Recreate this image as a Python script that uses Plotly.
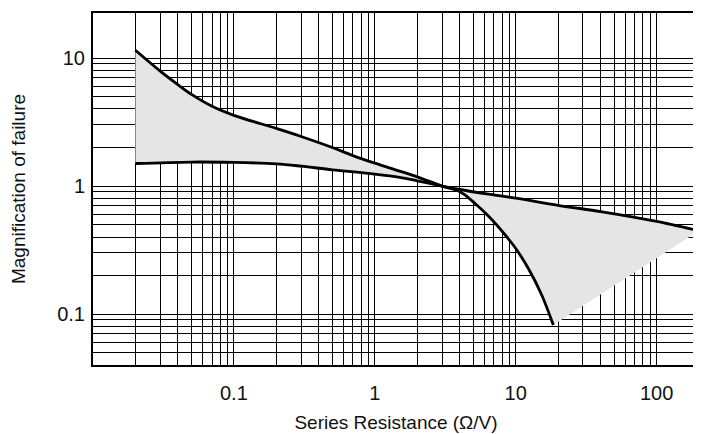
import plotly.graph_objects as go

# Curve A (steep curve): starts high at left, drops steeply past ~3 Ω/V
x_a = [0.02, 0.03, 0.04, 0.05, 0.07, 0.1, 0.2, 0.3, 0.5, 0.7, 1.0, 1.5, 2.0, 3.0,
       4.0, 5.1, 6.4, 8.2, 9.9, 12.3, 15.3, 18.5]
y_a = [11.5, 7.9, 6.2, 5.2, 4.2, 3.57, 2.82, 2.44, 2.0, 1.73, 1.51, 1.31, 1.18, 1.0,
       0.906, 0.738, 0.583, 0.43, 0.331, 0.227, 0.141, 0.082]

# Curve B (flat curve)
x_b = [0.02, 0.05, 0.1, 0.2, 0.3, 0.5, 1.0, 1.5, 2.0, 3.0, 4.0, 6.4,
       10, 20, 40, 70, 100, 200]
y_b = [1.50, 1.54, 1.53, 1.49, 1.43, 1.34, 1.24, 1.17, 1.10, 1.0, 0.94, 0.865,
       0.805, 0.708, 0.632, 0.57, 0.53, 0.448]

# Grid values and tick labels
x_grid = [0.02, 0.03, 0.04, 0.05, 0.06, 0.07, 0.08, 0.09,
          0.1, 0.2, 0.3, 0.4, 0.5, 0.6, 0.7, 0.8, 0.9,
          1, 2, 3, 4, 5, 6, 7, 8, 9,
          10, 20, 30, 40, 50, 60, 70, 80, 90, 100, 200]
x_labels = {0.1: "0.1", 1: "1", 10: "10", 100: "100"}
y_grid = [0.04, 0.05, 0.06, 0.07, 0.08, 0.09,
          0.1, 0.2, 0.3, 0.4, 0.5, 0.6, 0.7, 0.8, 0.9,
          1, 2, 3, 4, 5, 6, 7, 8, 9, 10]
y_labels = {0.1: "0.1", 1: "1", 10: "10"}

x_title = "Series Resistance (Ω/V)"
y_title = "Magnification of failure"

FONT = "Liberation Sans, Arial, sans-serif"

fig = go.Figure()

# shaded region between curves
fig.add_trace(go.Scatter(
    x=x_b + x_a[::-1], y=y_b + y_a[::-1],
    fill="toself", fillcolor="#e5e5e5", mode="none",
    hoverinfo="skip", showlegend=False))

for xs, ys in ((x_a, y_a), (x_b, y_b)):
    fig.add_trace(go.Scatter(
        x=xs, y=ys, mode="lines",
        line=dict(color="black", width=2.8, shape="spline", smoothing=1.0),
        showlegend=False))

fig.update_layout(
    width=701, height=434,
    margin=dict(l=85, r=10, t=5, b=77),
    paper_bgcolor="white", plot_bgcolor="white",
    font=dict(family=FONT, size=20, color="#111"),
    showlegend=False,
)
fig.update_xaxes(
    type="log", range=[-2, 2.30103], automargin=False,
    tickmode="array", tickvals=x_grid,
    ticktext=[x_labels.get(v, "") for v in x_grid],
    showgrid=True, gridcolor="black", gridwidth=1,
    showline=True, mirror=True, linecolor="black", linewidth=2,
    ticks="", ticklabelstandoff=9,
    title=dict(text=x_title, standoff=13, font=dict(size=19)),
)
fig.update_yaxes(
    type="log", range=[-1.39794, 1.352], automargin=False,
    tickmode="array", tickvals=y_grid,
    ticktext=[y_labels.get(v, "") for v in y_grid],
    showgrid=True, gridcolor="black", gridwidth=1,
    showline=True, mirror=True, linecolor="black", linewidth=2,
    ticks="", ticklabelstandoff=2,
    title=dict(text=y_title, standoff=27, font=dict(size=19)),
)

fig.write_html("out.html")
